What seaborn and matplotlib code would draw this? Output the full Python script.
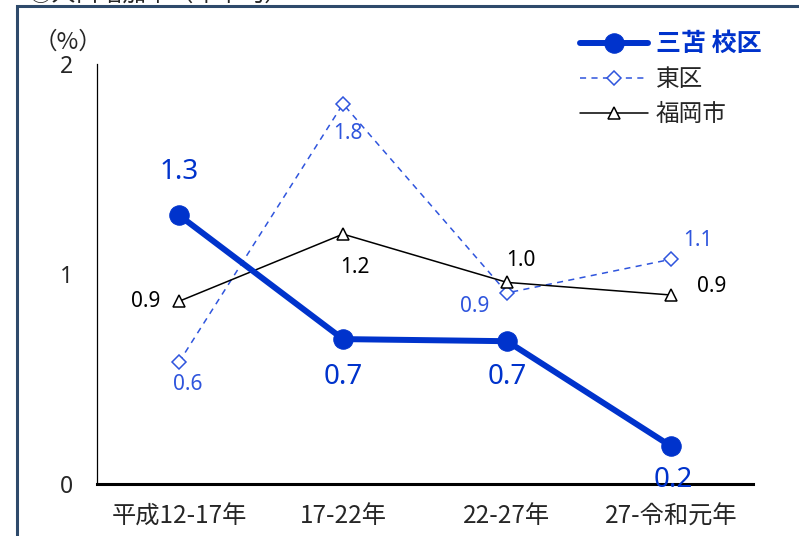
import numpy as np
import pandas as pd
import seaborn as sns
import matplotlib.pyplot as plt
from matplotlib.patches import Rectangle

sns.set_style("white")
plt.rcParams['font.family'] = ['Noto Sans CJK JP', 'DejaVu Sans']

periods = ["平成12-17年", "17-22年", "22-27年", "27-令和元年"]
mitoma = [1.28, 0.69, 0.68, 0.18]
higashi = [0.58, 1.81, 0.91, 1.07]
fukuoka = [0.87, 1.19, 0.96, 0.90]

# label offsets (points) for the value labels
off_mitoma = [(0, 31), (0, -27), (0, -26), (2, -24)]
off_higashi = [(6.5, -16), (3.6, -21), (-23, -10), (19.5, 13.7)]
off_fukuoka = [(-24, 0), (8.6, -24), (10, 16), (29.5, 5.8)]

BLUE = "#0033cc"
BLUE2 = "#2f55dd"

x = np.arange(len(periods))
df = pd.DataFrame({"x": x, "mitoma": mitoma, "higashi": higashi, "fukuoka": fukuoka})

fig = plt.figure(figsize=(7.99, 5.36), dpi=100)
ax = fig.add_axes([97/799, 1 - 484/536, (753 - 97)/799, (484 - 64)/536])

sns.lineplot(data=df, x="x", y="mitoma", ax=ax, color=BLUE, lw=4.3, marker="o",
             markersize=14, markeredgecolor=BLUE, label="三苫 校区", zorder=5)
sns.lineplot(data=df, x="x", y="higashi", ax=ax, color=BLUE2, lw=1.1, marker="D",
             markersize=7, markerfacecolor="white", markeredgecolor=BLUE2,
             markeredgewidth=1.1, dashes=(4, 3.5), label="東区", zorder=3)
sns.lineplot(data=df, x="x", y="fukuoka", ax=ax, color="black", lw=1.1, marker="^",
             markersize=9, markerfacecolor="white", markeredgecolor="black",
             markeredgewidth=1.1, label="福岡市", zorder=4)
ax.lines[1].set_dashes((4, 3.5))

for vals, offs, col, fs in [(mitoma, off_mitoma, BLUE, 20),
                            (higashi, off_higashi, BLUE2, 15),
                            (fukuoka, off_fukuoka, "black", 15)]:
    for xi, v, o in zip(x, vals, offs):
        ax.annotate(f"{v:.1f}", (xi, v), xytext=o, textcoords="offset points",
                    ha="center", va="center", color=col, fontsize=fs,
                    family=["Noto Sans", "DejaVu Sans"], zorder=6)

ax.set_xlim(-0.5, 3.5)
ax.set_ylim(0, 2)
ax.set_yticks([0, 1, 2])
ax.set_yticklabels(["0", "1", "2"], fontsize=16.5, family=["Noto Sans", "DejaVu Sans"])
ax.tick_params(axis="y", length=0, pad=17)
ax.set_xticks(np.arange(-0.5, 4, 1))
ax.set_xticklabels([])
ax.tick_params(axis="x", which="major", direction="in", length=5, width=2)
ax.set_xticks(x, minor=True)
ax.set_xticklabels(periods, minor=True, fontsize=17.5)
ax.tick_params(axis="x", which="minor", length=0, pad=14)
ax.set_xlabel("")
ax.set_ylabel("")
for s in ["top", "right"]:
    ax.spines[s].set_visible(False)
ax.spines["left"].set_linewidth(0.9)
ax.spines["bottom"].set_linewidth(2.2)
for s in ["left", "bottom"]:
    ax.spines[s].set_color("black")

leg = ax.legend(loc="upper right", bbox_to_anchor=(773/799, 1 - 20/536),
                bbox_transform=fig.transFigure, frameon=False, fontsize=17,
                handlelength=2.9, handletextpad=0.3, labelspacing=0.52, borderpad=0)
for t in leg.get_texts():
    if t.get_text() == "三苫 校区":
        t.set_color(BLUE)
        t.set_fontweight("bold")
        t.set_fontsize(18)

fig.text(68/799, 1 - 42/536, "（%）", ha="center", va="center", fontsize=17)

# frame and clipped heading
fig.patches.append(Rectangle((16.5/799, -0.1), 1.2, 1.1 - 6/536, transform=fig.transFigure,
                             fill=False, edgecolor="#2e4a6b", lw=2.2, figure=fig))
fig.text(28/799, 1 - 1/536, "⑤人口増加率（年平均）", ha="left", va="baseline", fontsize=17)

fig.savefig("out.png", dpi=100)
